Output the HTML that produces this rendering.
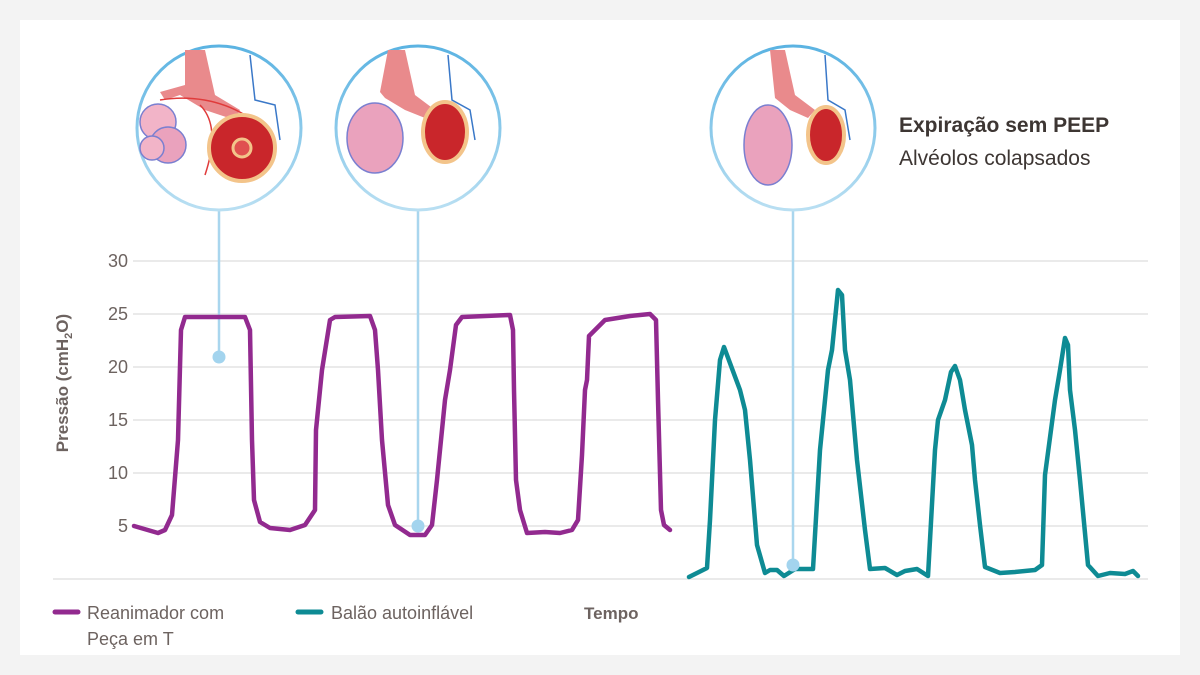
<!DOCTYPE html>
<html><head><meta charset="utf-8"><style>
html,body{margin:0;padding:0;background:#f3f3f3;}
svg{display:block;font-family:"Liberation Sans",sans-serif;}
</style></head><body>
<svg width="1200" height="675" viewBox="0 0 1200 675">
<rect x="0" y="0" width="1200" height="675" fill="#f3f3f3"/>
<rect x="20" y="20" width="1160" height="635" fill="#fff"/>
<g stroke="#e4e4e4" stroke-width="1.5">
<line x1="133" y1="261" x2="1148" y2="261"/>
<line x1="133" y1="314" x2="1148" y2="314"/>
<line x1="133" y1="367" x2="1148" y2="367"/>
<line x1="133" y1="420" x2="1148" y2="420"/>
<line x1="133" y1="473" x2="1148" y2="473"/>
<line x1="133" y1="526" x2="1148" y2="526"/>
<line x1="53" y1="579" x2="1148" y2="579"/>
</g>
<g fill="#6d6360" font-size="18" text-anchor="end">
<text x="128" y="267">30</text><text x="128" y="320">25</text><text x="128" y="373">20</text>
<text x="128" y="426">15</text><text x="128" y="479">10</text><text x="128" y="532">5</text>
</g>
<text transform="translate(68,383) rotate(-90)" text-anchor="middle" fill="#6d6360" font-size="17" font-weight="bold">Pressão (cmH<tspan font-size="11" dy="4">2</tspan><tspan dy="-4">O)</tspan></text>
<g stroke="#a9d6ee" stroke-width="2.5">
<line x1="219" y1="211" x2="219" y2="357"/>
<line x1="418" y1="211" x2="418" y2="526"/>
<line x1="793" y1="211" x2="793" y2="565"/>
</g>
<polyline fill="none" stroke="#922a8f" stroke-width="4.5" stroke-linejoin="round" stroke-linecap="round" points="134,526 158,533 165,530 172,515 178,440 181,330 185,317 245,317 250,330 252,440 254,500 260,522 270,528 290,530 305,525 315,510 316,430 322,370 330,320 335,317 370,316 375,330 378,370 382,440 388,505 395,525 410,535 425,535 432,525 437,480 445,400 450,370 456,325 462,317 510,315 513,330 514,390 516,480 520,510 527,533 545,532 560,533 572,530 578,520 582,455 585,390 587,380 589,336 595,330 605,320 630,316 650,314 656,320 658,400 661,510 664,525 670,530"/>
<polyline fill="none" stroke="#0e8b94" stroke-width="4.5" stroke-linejoin="round" stroke-linecap="round" points="689,577 707,568 710,520 715,420 720,360 724,347 740,390 745,410 750,460 757,545 765,573 770,570 777,570 784,576 795,569 813,569 820,450 828,370 832,350 838,290 842,295 845,350 850,380 857,460 865,530 870,569 885,568 897,575 905,571 917,569 928,576 935,450 938,420 945,400 951,372 955,366 960,380 965,410 972,445 975,480 980,525 985,567 1000,573 1015,572 1035,570 1042,565 1045,475 1055,400 1060,370 1065,338 1068,345 1070,390 1075,430 1080,480 1088,565 1098,576 1110,573 1125,574 1133,571 1138,576"/>
<g fill="#a3d4ee"><circle cx="219" cy="357" r="6.5"/><circle cx="418" cy="526" r="6.5"/><circle cx="793" cy="565" r="6.5"/></g>
<defs><linearGradient id="cg" x1="0" y1="0" x2="0" y2="1"><stop offset="0" stop-color="#5bb3e2"/><stop offset="1" stop-color="#b9dff2"/></linearGradient></defs>
<g>
<circle cx="219" cy="128" r="82" fill="#fff" stroke="url(#cg)" stroke-width="3"/>
<path d="M185,50 L205,50 L215,95 L240,110 L235,120 L205,110 L180,95 L165,100 L160,92 L185,85 Z" fill="#e98a8c"/>
<path d="M160,100 C190,95 220,100 245,115 M200,105 C220,125 210,160 205,175" fill="none" stroke="#e03b3b" stroke-width="1.5"/>
<circle cx="158" cy="122" r="18" fill="#f2b4c8" stroke="#7a7fd0" stroke-width="1.5"/>
<circle cx="168" cy="145" r="18" fill="#eaa2bd" stroke="#7a7fd0" stroke-width="1.5"/>
<circle cx="152" cy="148" r="12" fill="#f2b4c8" stroke="#7a7fd0" stroke-width="1.5"/>
<circle cx="242" cy="148" r="33" fill="#c9262b" stroke="#f3c48a" stroke-width="4"/>
<circle cx="242" cy="148" r="9" fill="#e05050" stroke="#f3c48a" stroke-width="3"/>
<path d="M250,55 L255,100 L275,105 L280,140" fill="none" stroke="#3a78c8" stroke-width="1.5"/>
</g>
<g>
<circle cx="418" cy="128" r="82" fill="#fff" stroke="url(#cg)" stroke-width="3"/>
<path d="M388,50 L405,50 L415,95 L435,110 L430,120 L405,110 L385,98 L380,92 Z" fill="#e98a8c"/>
<ellipse cx="375" cy="138" rx="28" ry="35" fill="#eaa2bd" stroke="#7a7fd0" stroke-width="1.5"/>
<ellipse cx="445" cy="132" rx="22" ry="30" fill="#c9262b" stroke="#f3c48a" stroke-width="4"/>
<path d="M448,55 L452,100 L470,110 L475,140" fill="none" stroke="#3a78c8" stroke-width="1.5"/>
</g>
<g>
<circle cx="793" cy="128" r="82" fill="#fff" stroke="url(#cg)" stroke-width="3"/>
<path d="M770,50 L785,50 L795,95 L815,110 L808,118 L790,110 L775,98 Z" fill="#e98a8c"/>
<ellipse cx="768" cy="145" rx="24" ry="40" fill="#eaa2bd" stroke="#7a7fd0" stroke-width="1.5"/>
<ellipse cx="826" cy="135" rx="18" ry="28" fill="#c9262b" stroke="#f3c48a" stroke-width="4"/>
<path d="M825,55 L828,100 L845,110 L850,140" fill="none" stroke="#3a78c8" stroke-width="1.5"/>
</g>
<text x="899" y="132" font-size="21" font-weight="bold" fill="#3d3633">Expiração sem PEEP</text>
<text x="899" y="165" font-size="21" fill="#3d3633">Alvéolos colapsados</text>
<line x1="55" y1="612" x2="78" y2="612" stroke="#922a8f" stroke-width="5" stroke-linecap="round"/>
<text x="87" y="619" font-size="18" fill="#6d6360">Reanimador com</text>
<text x="87" y="645" font-size="18" fill="#6d6360">Peça em T</text>
<line x1="298" y1="612" x2="321" y2="612" stroke="#0e8b94" stroke-width="5" stroke-linecap="round"/>
<text x="331" y="619" font-size="18" fill="#6d6360">Balão autoinflável</text>
<text x="584" y="619" font-size="17" font-weight="bold" fill="#6d6360">Tempo</text>
</svg>
</body></html>
